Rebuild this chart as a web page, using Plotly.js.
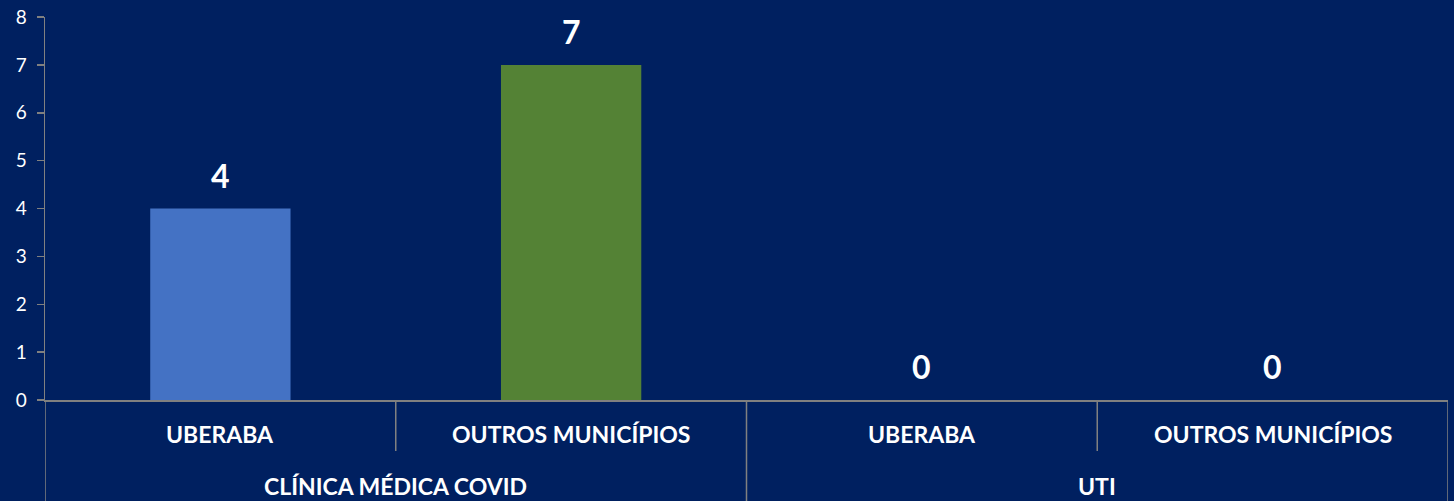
<!DOCTYPE html>
<html>
<head>
<meta charset="utf-8">
<script src="https://cdn.plot.ly/plotly-3.0.1.min.js"></script>
<style>
  html, body { margin:0; padding:0; background:#002060; }
  #chart { width:1454px; height:501px; }
</style>
</head>
<body>
<div id="chart"></div>
<script>
// chart data
const groups  = ['CLÍNICA MÉDICA COVID', 'CLÍNICA MÉDICA COVID', 'UTI', 'UTI'];
const origins = ['UBERABA', 'OUTROS MUNICÍPIOS', 'UBERABA', 'OUTROS MUNICÍPIOS'];
const values  = [4, 7, 0, 0];
const yTicks  = [0, 1, 2, 3, 4, 5, 6, 7, 8];

(function(){
  'use strict';

  const BG = '#002060';
  const LINE = '#808080';
  const FONT = 'Lato, "Open Sans", sans-serif';
  const colorFor = o => o === 'UBERABA' ? '#4472C4' : '#548235';

  const idx = origins.map((_, i) => i);

  const bars = {
    type: 'bar',
    x: idx,
    y: values,
    width: 0.4,
    marker: { color: origins.map(colorFor), line: { width: 0 } },
    hoverinfo: 'skip',
    showlegend: false
  };

  const annotations = [];
  // value labels above bars
  idx.forEach(i => {
    annotations.push({
      x: i, y: values[i], xref: 'x', yref: 'y',
      text: '<b>' + values[i] + '</b>', showarrow: false,
      yanchor: 'bottom', yshift: 12,
      font: { family: FONT, size: 32, color: '#ffffff' }
    });
  });
  // inner category labels
  idx.forEach(i => {
    annotations.push({
      x: i, y: -0.088, xref: 'x', yref: 'paper',
      text: '<b>' + origins[i] + '</b>', showarrow: false,
      yanchor: 'middle',
      font: { family: FONT, size: 23, color: '#ffffff' }
    });
  });
  // group labels, centred over their categories
  const groupNames = [...new Set(groups)];
  groupNames.forEach(g => {
    const members = idx.filter(i => groups[i] === g);
    const mid = members.reduce((a, b) => a + b, 0) / members.length;
    annotations.push({
      x: mid, y: -0.225, xref: 'x', yref: 'paper',
      text: '<b>' + g + '</b>', showarrow: false,
      yanchor: 'middle',
      font: { family: FONT, size: 23, color: '#ffffff' }
    });
  });

  // divider lines below the axis (short between cities, long between groups)
  const shapes = [];
  for (let i = 0; i <= idx.length; i++) {
    const outer = i === 0 || i === idx.length || groups[i] !== groups[i - 1];
    shapes.push({
      type: 'line', xref: 'x', yref: 'paper',
      x0: i - 0.5, x1: i - 0.5, y0: 0, y1: outer ? -0.27 : -0.133,
      line: { color: LINE, width: 1.5 }
    });
  }

  const layout = {
    width: 1454, height: 501,
    margin: { l: 45, r: 6, t: 17, b: 101 },
    paper_bgcolor: BG,
    plot_bgcolor: BG,
    font: { family: FONT, color: '#ffffff' },
    bargap: 0.6,
    xaxis: {
      type: 'linear', range: [-0.5, idx.length - 0.5],
      showticklabels: false, showgrid: false, zeroline: false,
      showline: true, linecolor: LINE, linewidth: 1.5, ticks: '',
      fixedrange: true
    },
    yaxis: {
      range: [0, 8], tickvals: yTicks, ticktext: yTicks.map(String),
      showgrid: false, zeroline: false,
      showline: true, linecolor: LINE, linewidth: 1.5,
      ticks: 'outside', ticklen: 7, tickcolor: LINE, tickwidth: 1.5,
      ticklabelstandoff: 6,
      tickfont: { family: FONT, size: 19, color: '#ffffff' },
      fixedrange: true
    },
    annotations: annotations,
    shapes: shapes
  };

  Plotly.newPlot('chart', [bars], layout, { displayModeBar: false, staticPlot: true });
})();
</script>
</body>
</html>
